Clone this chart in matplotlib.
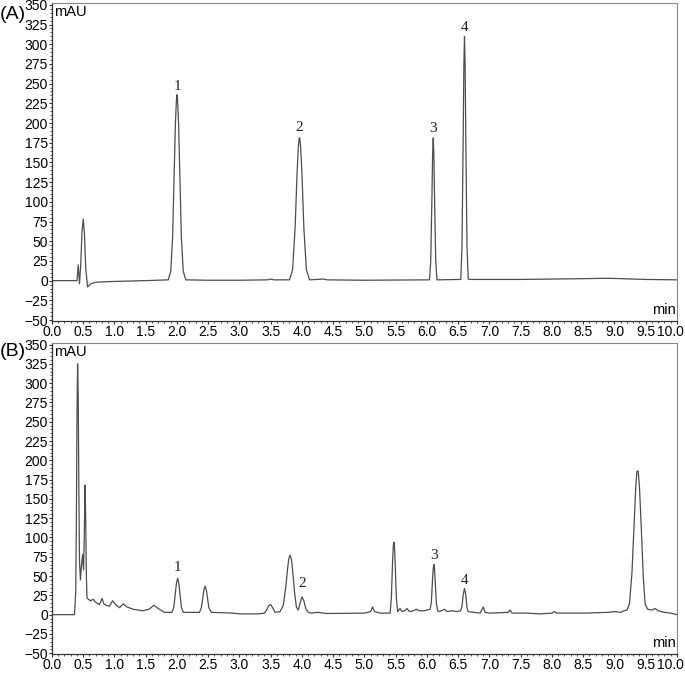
import numpy as np
import matplotlib
matplotlib.use("Agg")
import matplotlib.pyplot as plt
from matplotlib.ticker import MultipleLocator
from matplotlib.transforms import ScaledTranslation

plt.rcParams['font.family'] = ['Liberation Sans', 'DejaVu Sans']

# Trace (A): standard mixture (min, mAU)
time_a = [0.00, 0.40, 0.42, 0.44, 0.46, 0.48, 0.50, 0.52, 0.54, 0.57, 0.62, 0.70,
          1.00, 1.50, 1.86, 1.90, 1.93, 1.955, 1.975, 1.99, 2.00, 2.01, 2.025, 2.045,
          2.07, 2.10, 2.14, 2.50, 3.00, 3.45, 3.50, 3.55, 3.80, 3.85, 3.89, 3.92,
          3.94, 3.955, 3.965, 3.98, 4.00, 4.03, 4.07, 4.12, 4.35, 4.40, 5.00, 6.04,
          6.06, 6.08, 6.09, 6.10, 6.11, 6.12, 6.14, 6.16, 6.54, 6.56, 6.58, 6.59,
          6.60, 6.61, 6.62, 6.64, 6.66, 6.70, 7.50, 8.50, 8.90, 9.10, 9.50, 10.0]
signal_a = [0, 0, 20, -4, 20, 62, 78, 58, 15, -8, -4, -2,
            -1, 0, 1, 12, 55, 136, 200, 228, 236, 228, 200, 136,
            55, 12, 1, 0.5, 0.5, 1, 2, 1, 1, 14, 67, 134,
            168, 181, 181, 168, 134, 67, 14, 1, 2, 1, 0.5, 1,
            25, 110, 160, 181, 160, 110, 25, 1, 1.5, 43, 188, 274,
            310, 274, 188, 43, 2, 1.5, 1.5, 2.5, 3, 2.5, 1.5, 1]

# Trace (B): sample extract
time_b = [0.00, 0.36, 0.38, 0.39, 0.40, 0.41, 0.42, 0.43, 0.44, 0.455, 0.47, 0.49,
          0.505, 0.515, 0.53, 0.54, 0.55, 0.56, 0.58, 0.62, 0.66, 0.70, 0.76, 0.80,
          0.83, 0.87, 0.92, 0.97, 1.02, 1.08, 1.14, 1.20, 1.30, 1.45, 1.55, 1.63,
          1.70, 1.80, 1.92, 1.95, 1.97, 1.99, 2.01, 2.03, 2.05, 2.07, 2.10, 2.30,
          2.36, 2.39, 2.41, 2.43, 2.45, 2.47, 2.49, 2.51, 2.55, 2.90, 3.00, 3.30,
          3.40, 3.44, 3.47, 3.50, 3.53, 3.57, 3.65, 3.70, 3.74, 3.77, 3.79, 3.81,
          3.83, 3.85, 3.88, 3.91, 3.94, 3.97, 4.00, 4.03, 4.06, 4.10, 4.15, 4.25,
          4.40, 5.00, 5.10, 5.13, 5.16, 5.25, 5.41, 5.43, 5.45, 5.46, 5.47, 5.48,
          5.49, 5.51, 5.53, 5.57, 5.60, 5.64, 5.68, 5.72, 5.78, 5.83, 5.88, 5.95,
          6.05, 6.07, 6.09, 6.10, 6.11, 6.12, 6.13, 6.15, 6.17, 6.20, 6.28, 6.32,
          6.40, 6.48, 6.54, 6.56, 6.58, 6.60, 6.62, 6.64, 6.66, 6.75, 6.85, 6.90,
          6.93, 7.00, 7.30, 7.33, 7.36, 7.60, 7.80, 8.00, 8.04, 8.08, 8.50, 8.90,
          9.00, 9.10, 9.15, 9.20, 9.24, 9.28, 9.31, 9.34, 9.36, 9.38, 9.40, 9.43,
          9.46, 9.49, 9.53, 9.60, 9.65, 9.70, 9.80, 9.90, 10.0]
signal_b = [0, 0, 30, 120, 260, 325, 280, 160, 70, 45, 62, 78,
            58, 95, 168, 120, 50, 22, 20, 18, 20, 16, 13, 21,
            14, 12, 11, 18, 13, 9, 14, 10, 7, 5, 7, 12,
            8, 3, 3, 10, 25, 40, 47, 40, 25, 10, 3, 3,
            3, 9, 20, 32, 37, 32, 20, 9, 3, 2, 1, 1,
            2, 7, 12, 13, 9, 3, 4, 12, 35, 60, 73, 77,
            72, 58, 30, 10, 6, 15, 23, 18, 8, 3, 2, 3,
            1.5, 2, 4, 10, 4, 2, 2, 22, 70, 88, 94, 88,
            68, 22, 4, 8, 4, 5, 8, 4, 5, 7, 5, 5,
            7, 16, 48, 60, 65, 60, 45, 15, 5, 4, 7, 4,
            5, 4, 5, 11, 26, 34, 26, 9, 4, 3, 2, 10,
            3, 2, 3, 6, 2, 2, 1, 2, 4, 2, 2, 3,
            4, 3, 5, 6, 14, 55, 110, 165, 186, 186, 165, 110,
            50, 14, 7, 6, 8, 5, 3, 2, 0]

# Peak labels: (time, label centre height)
peak_names = ["1", "2", "3", "4"]
label_pos_a = [(2.00, 246), (3.96, 194), (6.10, 193), (6.60, 321)]
label_pos_b = [(2.01, 61), (4.01, 41), (6.11, 77), (6.60, 44)]

panel_names = ["(A)", "(B)"]

LINE_COLOR = "#4d4d4d"

fig = plt.figure(figsize=(6.85, 6.73), dpi=100)
ax_a = fig.add_axes([0.0759, 0.5233, 0.9124, 0.4719])
ax_b = fig.add_axes([0.0759, 0.0282, 0.9124, 0.4621])

traces = [(time_a, signal_a, label_pos_a), (time_b, signal_b, label_pos_b)]
xvals = np.arange(0, 10.01, 0.5)

for ax, (t, s, labels) in zip([ax_a, ax_b], traces):
    ax.plot(t, s, color=LINE_COLOR, lw=0.9)
    for txt, (x, y) in zip(peak_names, labels):
        ax.text(x, y, txt, ha="center", va="center", fontsize=11,
                family=["Liberation Serif", "DejaVu Serif"], color="#222222")

    ax.set_xlim(0, 10)
    ax.set_ylim(-51, 352)
    ax.xaxis.set_minor_locator(MultipleLocator(0.1))
    ax.yaxis.set_minor_locator(MultipleLocator(5))
    ax.set_xticks(xvals)
    ax.set_xticklabels([f"{v:.1f}" for v in xvals])
    ax.set_yticks(np.arange(-50, 351, 25))
    ax.tick_params(which="major", direction="out", length=2.5, width=0.8,
                   labelsize=10, pad=0.5, color="#333333")
    ax.tick_params(which="minor", direction="out", length=1.5, width=0.6,
                   color="#333333")
    # the last label sits a little left of its tick, as in the instrument print
    last = ax.get_xticklabels()[-1]
    last.set_transform(last.get_transform() +
                       ScaledTranslation(-7 / 100, 0, fig.dpi_scale_trans))

    for side in ["top", "right"]:
        ax.spines[side].set_color("#888888")
        ax.spines[side].set_linewidth(0.8)
    for side in ["left", "bottom"]:
        ax.spines[side].set_color("#333333")
        ax.spines[side].set_linewidth(0.9)

    ax.text(0.004, 0.995, "mAU", transform=ax.transAxes, ha="left", va="top",
            fontsize=10.5)
    ax.text(0.998, 0.012, "min", transform=ax.transAxes, ha="right",
            va="bottom", fontsize=10.5)

fig.text(0.0, 0.979, panel_names[0], fontsize=14, ha="left", va="center")
fig.text(0.0, 0.477, panel_names[1], fontsize=14, ha="left", va="center")

fig.savefig("out.png", dpi=100)
